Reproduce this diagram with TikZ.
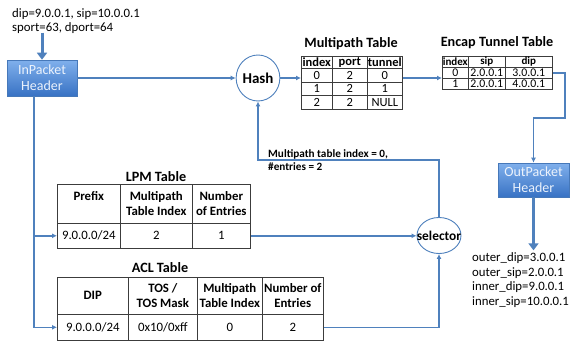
\documentclass[tikz,border=0pt]{standalone}
\usepackage{fontspec}
\setmainfont{Carlito}
\usetikzlibrary{shapes.geometric,arrows.meta,calc}
\definecolor{linkblue}{RGB}{79,129,189}
\definecolor{tabline}{RGB}{60,60,60}
\definecolor{boxtop}{RGB}{128,176,236}
\definecolor{boxbot}{RGB}{56,114,196}
\definecolor{boxedge}{RGB}{70,120,185}
\definecolor{boxtext}{RGB}{235,242,252}
\newcommand{\cellat}[7]{\node[#1, minimum width=#5pt, minimum height=#6pt] (#2) at (#3,#4) {#7};}
\tikzset{
 cell/.style={draw=tabline, line width=0.6pt, fill=white, inner sep=0pt, anchor=north west, align=center, font=\fontsize{12.8}{15}\selectfont},
 hcell/.style={cell, font=\bfseries\fontsize{12.8}{15}\selectfont},
 mcell/.style={cell, font=\fontsize{12.5}{13}\selectfont},
 mhcell/.style={cell, font=\bfseries\fontsize{12.5}{13}\selectfont},
 ecell/.style={cell, font=\fontsize{11.8}{12}\selectfont},
 ehcell/.style={cell, font=\bfseries\fontsize{11}{12}\selectfont},
 ttl/.style={font=\bfseries\fontsize{14.2}{16}\selectfont, inner sep=0pt},
 conn/.style={draw=linkblue, line width=1.4pt},
 arr/.style={-{Latex[length=5pt,width=5pt]}},
 bigarr/.style={draw=linkblue, line width=3pt, -{Triangle[length=7pt,width=10pt]}},
 pkt/.style={draw=boxedge, line width=0.6pt, top color=boxtop, bottom color=boxbot, text=boxtext, align=center, font=\fontsize{14}{16}\selectfont, inner sep=0pt},
 oval/.style={ellipse, draw=linkblue, line width=0.9pt, fill=white, inner sep=0pt},
 plain/.style={inner sep=0pt, align=left, font=\fontsize{12.8}{14.6}\selectfont},
}
\begin{document}
\begin{tikzpicture}[x=1pt,y=-1pt]
\fill[white] (0,0) rectangle (571,341);
\useasboundingbox (0,0) rectangle (571,341);

% input text and packet box
\node[plain, anchor=north west] (intext) at (12,8) {dip=9.0.0.1, sip=10.0.0.1\\sport=63, dport=64};
\node[pkt, minimum width=70pt, minimum height=36pt] (inp) at (42,78) {InPacket\\Header};
\coordinate (instart) at ($(inp.north)+(0,-27)$);
\draw[bigarr] (instart) -- (inp.north);

% Hash and selector
\node[oval, minimum width=42pt, minimum height=46pt, font=\bfseries\fontsize{15}{17}\selectfont] (hash) at (258,78) {Hash};
\node[oval, minimum width=44pt, minimum height=36pt,
  label={[font=\bfseries\fontsize{13.4}{15}\selectfont, inner sep=0pt]center:selector}] (sel) at (439,235.5) {};

% Multipath table
\node[ttl] (mpt) at (351,44) {Multipath Table};
\cellat{mhcell}{mp00}{301}{56}{31}{12}{index}
\cellat{mhcell}{mp01h}{332}{56}{35}{12}{port}
\cellat{mhcell}{mp02h}{367}{56}{35}{12}{tunnel}
\cellat{mcell}{mp01}{301}{68}{31}{13.5}{0}
\cellat{mcell}{mp02}{332}{68}{35}{13.5}{2}
\cellat{mcell}{mp03}{367}{68}{35}{13.5}{0}
\cellat{mcell}{mp11}{301}{81.5}{31}{13.5}{1}
\cellat{mcell}{mp12}{332}{81.5}{35}{13.5}{2}
\cellat{mcell}{mp13}{367}{81.5}{35}{13.5}{1}
\cellat{mcell}{mp21}{301}{95}{31}{13.5}{2}
\cellat{mcell}{mp22}{332}{95}{35}{13.5}{2}
\cellat{mcell}{mp23}{367}{95}{35}{13.5}{NULL}

% Encap tunnel table
\node[ttl] (ent) at (497,43) {Encap Tunnel Table};
\cellat{ehcell}{enh1}{442}{56}{26}{11}{index}
\cellat{ehcell}{enh2}{468}{56}{37}{11}{sip}
\cellat{ehcell}{enh3}{505}{56}{47}{11}{dip}
\cellat{ecell}{en01}{442}{67}{26}{11}{0}
\cellat{ecell}{en02}{468}{67}{37}{11}{2.0.0.1}
\cellat{ecell}{en03}{505}{67}{47}{11}{3.0.0.1}
\cellat{ecell}{en11}{442}{78}{26}{11}{1}
\cellat{ecell}{en12}{468}{78}{37}{11}{2.0.0.1}
\cellat{ecell}{en13}{505}{78}{47}{11}{4.0.0.1}

% Out packet
\node[pkt, minimum width=71pt, minimum height=34pt] (out) at (533.5,180) {OutPacket\\Header};
\coordinate (outend) at ($(out.south)+(0,53)$);
\draw[bigarr] (out.south) -- (outend);
\node[plain, anchor=north west] (outtext) at (472,252.6) {outer\_dip=3.0.0.1\\outer\_sip=2.0.0.1\\inner\_dip=9.0.0.1\\inner\_sip=10.0.0.1};

% LPM table
\node[ttl] (lpmt) at (156,177) {LPM Table};
\cellat{hcell}{lpmh1}{57}{184}{63}{39}{Prefix\\\mbox{}}
\cellat{hcell}{lpmh2}{120}{184}{72}{39}{Multipath\\Table Index}
\cellat{hcell}{lpmh3}{192}{184}{58}{39}{Number\\of Entries}
\cellat{cell}{lpm11}{57}{223}{63}{25}{9.0.0.0/24}
\cellat{cell}{lpm12}{120}{223}{72}{25}{2}
\cellat{cell}{lpm13}{192}{223}{58}{25}{1}

% ACL table
\node[ttl] (aclt) at (160,268) {ACL Table};
\cellat{hcell}{aclh1}{57}{277}{71}{37}{DIP}
\cellat{hcell}{aclh2}{128}{277}{69}{37}{TOS /\\TOS Mask}
\cellat{hcell}{aclh3}{197}{277}{65}{37}{Multipath\\Table Index}
\cellat{hcell}{aclh4}{262}{277}{61}{37}{Number of\\Entries}
\cellat{cell}{acl11}{57}{314}{71}{26}{9.0.0.0/24}
\cellat{cell}{acl12}{128}{314}{69}{26}{0x10/0xff}
\cellat{cell}{acl13}{197}{314}{65}{26}{0}
\cellat{cell}{acl14}{262}{314}{61}{26}{2}

% connectors
\draw[conn, arr] (inp.east) -- (hash.west);
\draw[conn, arr] (hash.east) -- (hash.east -| mp01.west);
\draw[conn, arr] (mp03.east |- hash.east) -- (hash.east -| en01.west);
\coordinate (bend) at (565,118);
\draw[conn, arr] (en03.east) -| (bend) -| (out.north);
\coordinate (vtop) at (34,96);
\draw[conn, arr] (vtop) |- (acl11.west);
\draw[conn, arr] (vtop |- lpm11.west) -- (lpm11.west);
\draw[conn, arr] (lpm13.east) -- (lpm13.east -| sel.west);
\draw[conn, arr] (acl14.east) -| (sel.south);
\coordinate (fb) at (258,160);
\draw[conn, arr] (sel.north) |- (fb) -- (hash.south);
\node[inner sep=0pt, anchor=north west, align=left, font=\bfseries\fontsize{11.2}{13}\selectfont] (fblabel) at (268,149) {Multipath table index = 0,\\\#entries = 2};
\end{tikzpicture}
\end{document}
